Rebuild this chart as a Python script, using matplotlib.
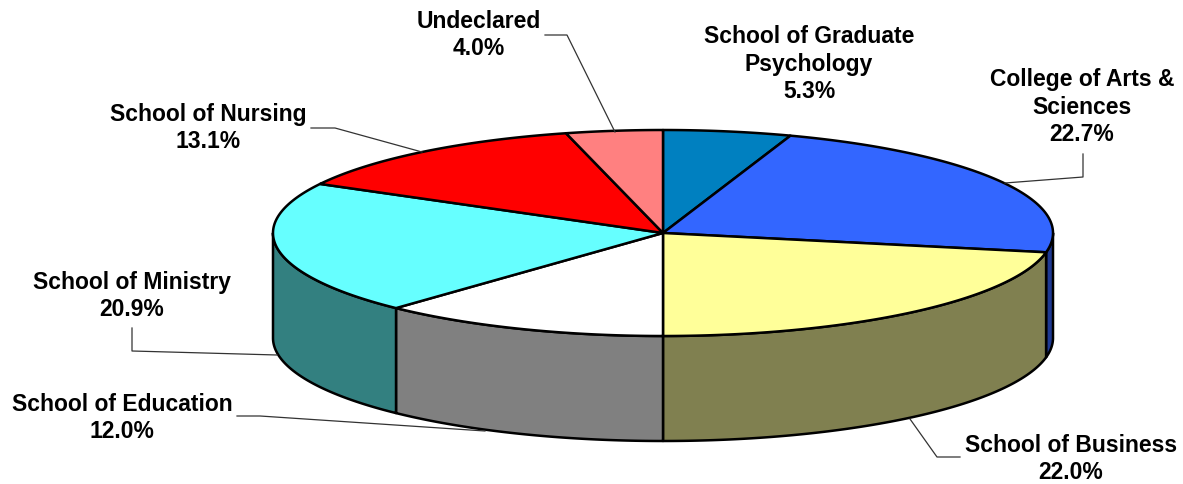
import numpy as np
import matplotlib
matplotlib.use("Agg")
import matplotlib.pyplot as plt
from matplotlib.patches import Polygon

# data (clockwise from 12 o'clock)
schools = ['School of Graduate\nPsychology', 'College of Arts &\nSciences',
           'School of Business', 'School of Education', 'School of Ministry',
           'School of Nursing', 'Undeclared']
shares = [5.3, 22.7, 22.0, 12.0, 20.9, 13.1, 4.0]
top_colors = ['#0080C0', '#3366FF', '#FFFF99', '#FFFFFF', '#66FFFF', '#FF0000', '#FF8080']
side_colors = ['#004060', '#1F3A93', '#808050', '#808080', '#338080', '#800000', '#804040']

# label placement (pixel coords) and leader lines
label_pos = [(809, 64), (1082, 107), (1071, 459), (122, 418), (132, 296), (208, 128), (479, 35)]
leaders = [None,
           [(1083, 155), (1083, 178), (1005, 184)],
           [(960, 458), (937, 458), (910, 420)],
           [(237, 417), (260, 417), (485, 432)],
           [(132, 329), (132, 352), (277, 356)],
           [(311, 129), (335, 129), (422, 153)],
           [(545, 36), (567, 36), (615, 133)]]

cx, cy, rx, ry, depth = 663, 234, 390, 103, 105

plt.rcParams['font.family'] = ['Liberation Sans', 'DejaVu Sans']

fig = plt.figure(figsize=(11.83, 4.85), dpi=100)
ax = fig.add_axes([0, 0, 1, 1])
ax.set_xlim(0, 1183)
ax.set_ylim(485, 0)
ax.axis('off')


def arc(t1, t2, dy=0, n=200):
    t = np.radians(np.linspace(t1, t2, n))
    return np.column_stack([cx + rx * np.cos(t), cy - ry * np.sin(t) + dy])


fracs = np.cumsum([0] + shares) / sum(shares)
angles = 90 - 360 * fracs

# side walls (only the front half, -180..0 deg, is visible)
for i in range(len(shares)):
    a1, a2 = angles[i], angles[i + 1]
    s1, s2 = min(a1, 0), max(a2, -180)
    if s1 <= s2:
        continue
    top = arc(s1, s2)
    bot = arc(s2, s1, dy=depth)
    ax.add_patch(Polygon(np.vstack([top, bot]), closed=True,
                         facecolor=side_colors[i], edgecolor='black',
                         linewidth=1.8, joinstyle='round'))

# top faces
for i in range(len(shares)):
    pts = np.vstack([[cx, cy], arc(angles[i], angles[i + 1])])
    ax.add_patch(Polygon(pts, closed=True, facecolor=top_colors[i],
                         edgecolor='black', linewidth=1.8, joinstyle='round'))

# labels
for i in range(len(shares)):
    x, y = label_pos[i]
    ax.text(x, y, '{0}\n{1:.1f}%'.format(schools[i], shares[i]),
            ha='center', va='center', fontsize=16.5, fontweight='bold',
            linespacing=1.25)
    if leaders[i]:
        lx, ly = zip(*leaders[i])
        ax.plot(lx, ly, color='#333333', linewidth=0.9)

fig.savefig('out.png', dpi=100)
